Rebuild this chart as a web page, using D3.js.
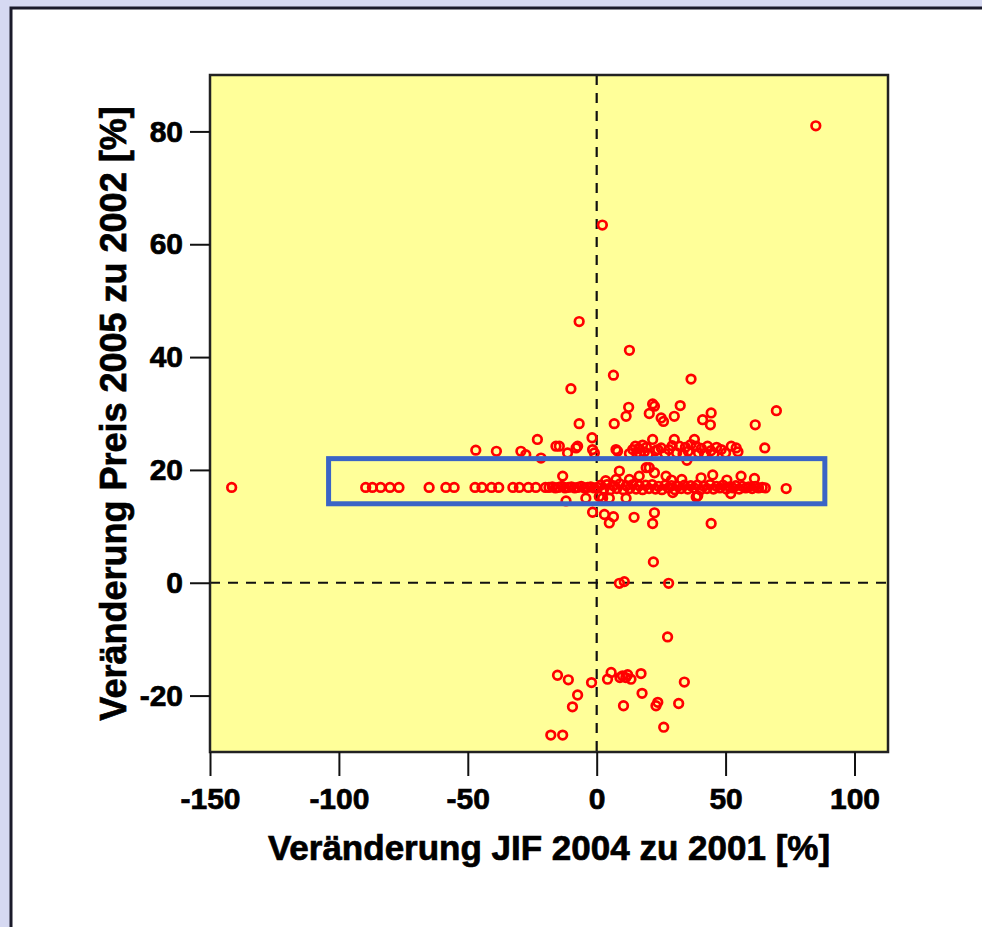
<!DOCTYPE html>
<html>
<head>
<meta charset="utf-8">
<title>JIF vs Preis</title>
<script src="https://d3js.org/d3.v7.min.js"></script>
<style>
  body { margin: 0; background: #d6d9f2; }
  svg { display: block; }
  text { font-family: "Liberation Sans", Arial, sans-serif; font-weight: bold; fill: #000; stroke: #000; stroke-width: 0.7px; }
</style>
</head>
<body>
<script>
// axis ticks
const xTicks = [-150, -100, -50, 0, 50, 100];
const yTicks = [-20, 0, 20, 40, 60, 80];
const xTitle = "Veränderung JIF 2004 zu 2001 [%]";
const yTitle = "Veränderung Preis 2005 zu 2002 [%]";

// [JIF change, price change]
const outliers = [
  [-141.6, 16.9], [85, 81], [2.2, 63.4], [-6.8, 46.3], [12.7, 41.2], [6.5, 36.8],
  [36.6, 36.1], [-10, 34.4], [69.7, 30.5]
];
const upperCloud = [
  [-6.8, 28.2], [6.8, 28.2], [11.4, 29.5], [12.4, 31.1], [20.4, 30], [22.4, 31.3],
  [21.7, 31.7], [25, 29.2], [25.9, 28.6], [30.1, 29.5], [32.4, 31.4], [41.1, 28.9],
  [44.4, 30.1], [44.1, 28], [61.5, 28], [-1.8, 25.7], [-23, 25.4]
];
const row23 = [
  [-46.9, 23.5], [-38.9, 23.3], [-29.4, 23.3], [-27.5, 22.7], [-21.6, 22.1], [-15.8, 24.2],
  [-14.5, 24.2], [-11.3, 23], [-8, 23.9], [-7.4, 24.2], [-1.6, 23.6], [-0.9, 23],
  [7.5, 23.6], [8.1, 23.3], [12.7, 22.9], [14, 23.6], [15, 24.2], [15.5, 23],
  [16.3, 23.8], [17, 22.7], [17.8, 24.4], [18.5, 23.2], [19.3, 24], [20, 22.8],
  [21.7, 25.4], [22.8, 23.4], [23.7, 23.6], [25, 23.9], [26.5, 22.9], [28, 23.6],
  [29.3, 24.3], [30.1, 25.4], [31, 23], [32.1, 24.2], [33.5, 22.8], [34.4, 24],
  [35.5, 23.3], [36.5, 24.5], [37.9, 25.4], [38.6, 24.2], [39.5, 23], [40.6, 23.8],
  [41.8, 22.9], [43, 24.2], [44.3, 23.4], [45.5, 22.8], [46.5, 24], [48.3, 23.6],
  [50, 23], [52.2, 24.2], [54.1, 23.9], [54.8, 23.2], [65.2, 23.9], [35, 21.7]
];
const between = [
  [-13.2, 18.9], [7.5, 18.3], [8.8, 19.8], [12.7, 18.3], [16.5, 18.9], [19.2, 20.4],
  [20.4, 20.4], [22.4, 19.5], [26.9, 18.9], [29, 18.2], [40.5, 18.6], [45, 19.1],
  [56, 18.9], [61.2, 18.5], [3.5, 18.1], [33, 18.3], [50.5, 18.2]
];
const row17 = [
  [-89.6, 16.9], [-87, 16.9], [-83.8, 16.9], [-80.2, 16.9], [-76.7, 16.9], [-65, 16.9],
  [-58.5, 16.9], [-55.3, 16.9], [-47.2, 16.9], [-44.5, 16.9], [-40.8, 16.9], [-38, 16.9],
  [-32.5, 16.9], [-30, 16.9], [-26.5, 16.9], [-23.6, 16.9], [-19.9, 16.9],
  [-18.5, 16.9], [-17.2, 17], [-16, 16.8], [-14.8, 16.9], [-13.5, 17.1], [-12.3, 16.8],
  [-11, 16.9], [-9.8, 17], [-8.5, 16.8], [-7.3, 16.9], [-6, 17.1], [-4.8, 16.8],
  [-3.5, 16.9], [-2.3, 17], [-1, 16.8], [0.3, 16.9], [1.5, 17.3], [2.8, 16.6],
  [4, 17.4], [5.3, 16.5], [6.5, 17.2], [7.8, 16.7], [9, 17.5], [10.3, 16.5],
  [11.5, 17.2], [12.8, 16.7], [14, 17.4], [15.3, 16.6], [16.5, 17.2], [17.8, 16.5],
  [19, 17.3], [20.3, 16.7], [21.5, 17.4], [22.8, 16.6], [24, 17.1], [25.3, 16.5],
  [26.5, 17.3], [27.8, 16.8], [29, 17.2], [30.3, 16.5], [31.5, 17.1], [32.8, 16.7],
  [34, 17.3], [35.3, 16.6], [36.5, 17.2], [37.8, 16.8], [39, 17.3], [40.3, 16.5],
  [41.5, 17.1], [42.8, 16.7], [44, 17.4], [45.3, 16.6], [46.5, 17.1], [47.8, 16.8],
  [49, 17.3], [50.3, 16.6], [51.5, 17], [52.8, 16.8], [54, 17.2], [55.3, 16.6],
  [56.5, 17.1], [57.8, 16.8], [59, 17], [60.3, 16.7], [61.5, 17.1], [62.8, 16.8],
  [64.2, 16.9], [65.4, 16.8], [73.5, 16.7]
];
const belowRow = [
  [-11.9, 14.5], [-4.2, 15], [1, 15.3], [2.3, 15], [4.9, 15], [11.4, 15],
  [29.5, 16], [38.6, 15.2], [39.2, 15.4], [52, 15.8], [-1.6, 12.5], [3, 12.1],
  [4.9, 10.6], [6.5, 11.7], [14.5, 11.6], [22.4, 12.4], [21.7, 10.5], [44.4, 10.5]
];
const lowerCloud = [
  [22, 3.7], [8.8, -0.1], [10.7, 0.2], [27.9, -0.1], [27.5, -9.6],
  [-15.2, -16.4], [-11, -17.2], [-2, -17.7], [4.2, -17.1], [5.6, -15.9], [9, -16.8],
  [10, -16.5], [11.3, -16.8], [12, -16.3], [13.3, -17.1], [17.2, -16.1], [34, -17.6],
  [17.6, -19.6], [-7.4, -19.9], [-9.4, -22], [10.4, -21.8], [23, -21.8], [23.7, -21.2],
  [31.8, -21.4], [26, -25.6], [-17.8, -27], [-13.2, -27]
];
// highlighted band (data units)
const band = { x0: -104, x1: 88.5, y0: 14, y1: 22 };

const points = [].concat(outliers, upperCloud, row23, between, row17, belowRow, lowerCloud);

const W = 982, H = 927;
const svg = d3.select("body").append("svg").attr("width", W).attr("height", H);

// slide frame
svg.append("rect").attr("width", W).attr("height", H).attr("fill", "#d6d9f2");
svg.append("rect").attr("x", 11).attr("y", 8).attr("width", W + 20).attr("height", H + 20)
  .attr("fill", "#fff").attr("stroke", "#1a1a2a").attr("stroke-width", 3);

const x = d3.scaleLinear().domain([-150, 113]).range([210, 888]);
const y = d3.scaleLinear().domain([-30, 90]).range([752, 75]);

// panel
svg.append("rect")
  .attr("x", x(-150)).attr("y", y(90))
  .attr("width", x(113) - x(-150)).attr("height", y(-30) - y(90))
  .attr("fill", "#ffff99");

// reference lines
svg.append("line")
  .attr("x1", x(0)).attr("x2", x(0)).attr("y1", y(90)).attr("y2", y(-30))
  .attr("stroke", "#111").attr("stroke-width", 2.2).attr("stroke-dasharray", "10,8");
svg.append("line")
  .attr("x1", x(-150)).attr("x2", x(113)).attr("y1", y(0)).attr("y2", y(0))
  .attr("stroke", "#111").attr("stroke-width", 2.2).attr("stroke-dasharray", "10,8");

// points
svg.append("g").selectAll("circle")
  .data(points).enter()
  .append("circle")
  .attr("cx", d => x(d[0]))
  .attr("cy", d => y(d[1]))
  .attr("r", 4.3)
  .attr("fill", "none")
  .attr("stroke", "#ff0000")
  .attr("stroke-width", 2.7);

// panel border
svg.append("rect")
  .attr("x", x(-150)).attr("y", y(90))
  .attr("width", x(113) - x(-150)).attr("height", y(-30) - y(90))
  .attr("fill", "none").attr("stroke", "#222").attr("stroke-width", 2.5);

// axes
const xAxis = svg.append("g")
  .attr("transform", `translate(0,${y(-30)})`)
  .call(d3.axisBottom(x).tickValues(xTicks).tickSize(24).tickPadding(12).tickFormat(d => String(d)));
const yAxis = svg.append("g")
  .attr("transform", `translate(${x(-150)},0)`)
  .call(d3.axisLeft(y).tickValues(yTicks).tickSize(20).tickPadding(7).tickFormat(d => String(d)));

[xAxis, yAxis].forEach(a => {
  a.select(".domain").remove();
  a.selectAll(".tick line").attr("stroke", "#111").attr("stroke-width", 2);
  a.selectAll(".tick text").attr("font-size", 30).attr("font-family", null).attr("fill", "#000");
});

svg.append("text")
  .attr("x", (x(-150) + x(113)) / 2).attr("y", 860)
  .attr("text-anchor", "middle").attr("font-size", 35)
  .text(xTitle);
svg.append("text")
  .attr("transform", `translate(126,${(y(90) + y(-30)) / 2}) rotate(-90)`)
  .attr("text-anchor", "middle").attr("font-size", 36)
  .text(yTitle);

// highlight box
svg.append("rect")
  .attr("x", x(band.x0)).attr("y", y(band.y1))
  .attr("width", x(band.x1) - x(band.x0)).attr("height", y(band.y0) - y(band.y1))
  .attr("fill", "none").attr("stroke", "#3a64c6").attr("stroke-width", 5);
</script>
</body>
</html>
